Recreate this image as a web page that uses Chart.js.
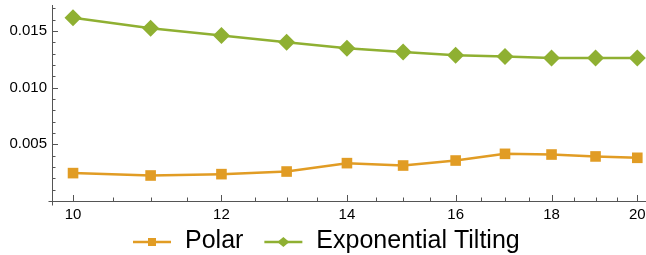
<!DOCTYPE html>
<html>
<head>
<meta charset="utf-8">
<script src="https://cdn.jsdelivr.net/npm/chart.js@4.4.1/dist/chart.umd.min.js"></script>
<style>
  html, body { margin: 0; padding: 0; background: #fff; }
  #wrap { width: 646px; height: 255px; }
</style>
</head>
<body>
<div id="wrap"><canvas id="chart" width="646" height="255"></canvas></div>
<script>
const xValues = [10, 11, 12, 13, 14, 15, 16, 17, 18, 19, 20];
const polarValues = [0.00246, 0.00225, 0.00237, 0.00260, 0.00334, 0.00313, 0.00357, 0.00416, 0.00410, 0.00393, 0.00381];
const tiltingValues = [0.01617, 0.01524, 0.01459, 0.01400, 0.01347, 0.01315, 0.01286, 0.01274, 0.01262, 0.01262, 0.01262];
const seriesNames = ['Polar', 'Exponential Tilting'];
const xTickLabels = [10, 12, 14, 16, 18, 20];
const yTickLabels = [0.005, 0.010, 0.015];

const orange = '#E19C24';
const green = '#8FB032';
const axisColor = '#555';
const fontFamily = '"Liberation Sans", Arial, sans-serif';

// Mathematica style axes: inward ticks, long ones at labelled values, small overhang at the corner
const tickMarks = {
  id: 'tickMarks',
  beforeDatasetsDraw(chart) {
    const { ctx, chartArea, scales } = chart;
    const xs = scales.x;
    const ys = scales.y;
    ctx.save();
    ctx.strokeStyle = axisColor;
    ctx.lineWidth = 1;
    ctx.beginPath();
    for (let v = 10; v <= 20; v += 0.5) {
      const px = Math.round(xs.getPixelForValue(v)) + 0.5;
      const len = xTickLabels.includes(v) ? 6 : 3.5;
      ctx.moveTo(px, chartArea.bottom);
      ctx.lineTo(px, chartArea.bottom - len);
    }
    for (let i = 1; i <= 17; i += 1) {
      const v = i * 0.001;
      const py = Math.round(ys.getPixelForValue(v)) + 0.5;
      if (py < chartArea.top) continue;
      const len = i % 5 === 0 ? 6 : 3.5;
      ctx.moveTo(chartArea.left, py);
      ctx.lineTo(chartArea.left + len, py);
    }
    const bx = Math.round(chartArea.left) + 0.5;
    const by = Math.round(chartArea.bottom) + 0.5;
    ctx.moveTo(bx - 4, by);
    ctx.lineTo(bx, by);
    ctx.moveTo(bx, by);
    ctx.lineTo(bx, by + 4);
    ctx.stroke();
    ctx.restore();
  }
};

// legend below the plot: line with marker, then the series name
const lineLegend = {
  id: 'lineLegend',
  afterDraw(chart) {
    const { ctx } = chart;
    const lineY = 242;
    const baseY = 248;
    let x = 133;
    ctx.save();
    ctx.font = '25px ' + fontFamily;
    ctx.textBaseline = 'alphabetic';
    ctx.textAlign = 'left';
    chart.data.datasets.forEach((ds) => {
      ctx.strokeStyle = ds.borderColor;
      ctx.fillStyle = ds.borderColor;
      ctx.lineWidth = 2.5;
      ctx.beginPath();
      ctx.moveTo(x, lineY);
      ctx.lineTo(x + 38, lineY);
      ctx.stroke();
      const cx = x + 19;
      ctx.beginPath();
      if (ds.pointStyle === 'rect') {
        ctx.rect(cx - 4, lineY - 4, 8, 8);
      } else {
        ctx.moveTo(cx, lineY - 5);
        ctx.lineTo(cx + 6, lineY);
        ctx.lineTo(cx, lineY + 5);
        ctx.lineTo(cx - 6, lineY);
        ctx.closePath();
      }
      ctx.fill();
      x += 38 + 14;
      ctx.fillStyle = '#000';
      ctx.fillText(ds.label, x, baseY);
      x += ctx.measureText(ds.label).width + 21;
    });
    ctx.restore();
  }
};

new Chart(document.getElementById('chart'), {
  type: 'line',
  data: {
    datasets: [
      {
        label: seriesNames[0],
        data: xValues.map((x, i) => ({ x, y: polarValues[i] })),
        borderColor: orange,
        backgroundColor: orange,
        borderWidth: 2.5,
        pointStyle: 'rect',
        pointRadius: 7.5,
        pointBorderWidth: 0,
        tension: 0,
        clip: 10
      },
      {
        label: seriesNames[1],
        data: xValues.map((x, i) => ({ x, y: tiltingValues[i] })),
        borderColor: green,
        backgroundColor: green,
        borderWidth: 2.5,
        pointStyle: 'rectRot',
        pointRadius: 8.5,
        pointBorderWidth: 0,
        tension: 0,
        clip: 10
      }
    ]
  },
  options: {
    responsive: false,
    animation: false,
    layout: { autoPadding: false, padding: { top: 5, right: 1, left: 0, bottom: 34 } },
    plugins: {
      tooltip: { enabled: false },
      legend: { display: false }
    },
    scales: {
      x: {
        type: 'logarithmic',
        min: 9.745,
        max: 20.19,
        grid: { display: true, drawOnChartArea: false, drawTicks: false },
        border: { color: axisColor, width: 1 },
        afterBuildTicks(scale) {
          scale.ticks = xTickLabels.map((v) => ({ value: v }));
        },
        afterFit(scale) {
          scale.height = 20;
          scale.paddingLeft = 0;
          scale.paddingRight = 0;
        },
        ticks: {
          autoSkip: false,
          source: 'data',
          maxRotation: 0,
          padding: 5,
          color: '#000',
          font: { family: fontFamily, size: 15 },
          callback: (v) => String(v)
        }
      },
      y: {
        type: 'linear',
        min: 0,
        max: 0.01729,
        grid: { display: true, drawOnChartArea: false, drawTicks: false },
        border: { color: axisColor, width: 1 },
        afterBuildTicks(scale) {
          scale.ticks = yTickLabels.map((v) => ({ value: v }));
        },
        afterFit(scale) {
          scale.width = 52;
          scale.paddingTop = 0;
          scale.paddingBottom = 0;
        },
        ticks: {
          autoSkip: false,
          source: 'data',
          padding: 5,
          color: '#000',
          font: { family: fontFamily, size: 15 },
          callback: (v) => Number(v).toFixed(3)
        }
      }
    }
  },
  plugins: [tickMarks, lineLegend]
});
</script>
</body>
</html>
